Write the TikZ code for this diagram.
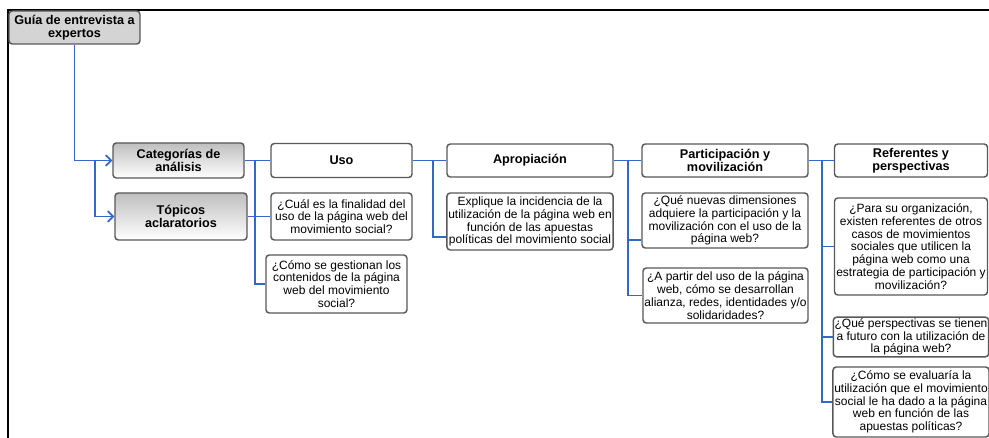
\documentclass[tikz,border=0pt]{standalone}
\usepackage{fontspec}
\setmainfont{Liberation Sans}
\usetikzlibrary{arrows.meta}
\definecolor{linkblue}{RGB}{52,104,200}
\definecolor{boxgray}{RGB}{88,88,88}
\definecolor{rootgray}{RGB}{212,212,212}
\tikzset{every picture/.style={line width=0.75pt}}
\tikzset{
  box/.style={draw=boxgray, line width=1.1pt, rounded corners=2.5pt, fill=white,
    align=center, inner sep=1pt, font=\fontsize{9}{9.6}\selectfont},
  headbox/.style={box, font=\fontsize{9.5}{9.7}\selectfont\bfseries},
  catbox/.style={headbox, top color=rootgray!90!black, bottom color=white},
  rootbox/.style={headbox, fill=rootgray},
  link/.style={draw=linkblue, line width=1.3pt},
  tip/.style={-{Straight Barb[length=4pt,width=8pt]}}
}

\begin{document}
\begin{tikzpicture}[x=0.75pt,y=0.75pt,yscale=-1,xscale=1]
\useasboundingbox (0,0) rectangle (989,438);

%Frame
\draw [line width=1.5pt] (8,438) -- (8,10) -- (989,10) ;

% Root and categories
\node [rootbox, minimum width=98.25pt, minimum height=24.75pt] (root) at (74.5,27.5) {Guía de entrevista a\\expertos};
\node [catbox, minimum width=98.25pt, minimum height=26.25pt] (cat) at (178.5,160.5) {Categorías de\\análisis};
\node [catbox, minimum width=99pt, minimum height=35.25pt] (top) at (181,216.5) {Tópicos\\aclaratorios};

% Uso
\node [headbox, minimum width=105.75pt, minimum height=25.5pt] (uso) at (341.5,160.5) {Uso};
\node [box, minimum width=105.75pt, minimum height=35.25pt] (cual) at (341.5,216.5) {¿Cuál es la finalidad del\\uso de la página web del\\movimiento social?};
\node [box, minimum width=105.75pt, minimum height=43.5pt] (como) at (336.5,284) {¿Cómo se gestionan los\\contenidos de la página\\web del movimiento\\social?};

% Apropiacion
\node [headbox, minimum width=124.5pt, minimum height=24.75pt] (aprop) at (530,160.5) {Apropiación};
\node [box, minimum width=124.5pt, minimum height=42.75pt] (expl) at (530,221.5) {Explique la incidencia de la\\utilización de la página web en\\función de las apuestas\\políticas del movimiento social};

% Participacion
\node [headbox, minimum width=124.5pt, minimum height=24.75pt] (part) at (725,160.5) {Participación y\\movilización};
\node [box, minimum width=124.5pt, minimum height=41.25pt] (nuevas) at (725,220.5) {¿Qué nuevas dimensiones\\adquiere la participación y la\\movilización con el uso de la\\página web?};
\node [box, minimum width=123.75pt, minimum height=41.25pt] (apartir) at (725.5,295.5) {¿A partir del uso de la página\\web, cómo se desarrollan\\alianza, redes, identidades y/o\\solidaridades?};

% Referentes
\node [headbox, minimum width=114.75pt, minimum height=24.75pt] (ref) at (911,160.5) {Referentes y\\perspectivas};
\node [box, minimum width=114.75pt, minimum height=72.75pt] (para) at (911,246.5) {¿Para su organización,\\existen referentes de otros\\casos de movimientos\\sociales que utilicen la\\página web como una\\estrategia de participación y\\movilización?};
\node [box, minimum width=114.75pt, minimum height=22.5pt] (persp) at (911,337) {¿Qué perspectivas se tienen\\a futuro con la utilización de\\la página web?};
\node [box, minimum width=114.75pt, minimum height=52.5pt] (eval) at (911,402) {¿Cómo se evaluaría la\\utilización que el movimiento\\social le ha dado a la página\\web en función de las\\apuestas políticas?};

% Connectors
\coordinate (j0) at (95,160.5);
\coordinate (b1) at (255,160.5);
\coordinate (b2) at (433,160.5);
\coordinate (b3) at (628,160.5);
\coordinate (b4) at (822,160.5);

\draw [link,tip] (root.south) |- (cat.west) ;
\draw [link,tip] (j0) |- (top.west) ;

\draw [link] (cat.east) -- (uso.west) ;
\draw [link] (top.east) -- (b1 |- top.east) ;
\draw [link] (b1) |- (cual.west) ;
\draw [link] (b1) |- (como.west) ;

\draw [link] (uso.east) -- (aprop.west) ;
\draw [link] (b2) |- ([yshift=11.6pt]expl.west) ;

\draw [link] (aprop.east) -- (part.west) ;
\draw [link] (b3) |- ([yshift=14.6pt]nuevas.west) ;
\draw [link] (b3) |- (apartir.west) ;

\draw [link] (part.east) -- (ref.west) ;
\draw [link] (b4) |- (para.west) ;
\draw [link] (b4) |- (persp.west) ;
\draw [link] (b4) |- (eval.west) ;

\end{tikzpicture}
\end{document}
